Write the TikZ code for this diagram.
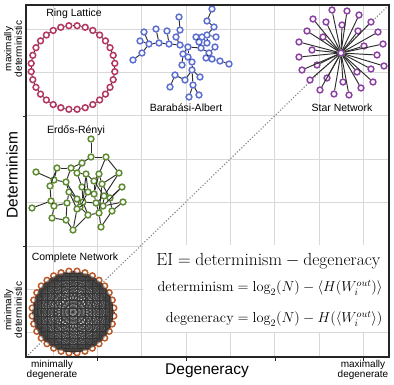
\RequirePackage{fix-cm}
\documentclass[tikz,border=0pt]{standalone}
\usepackage{amsmath}
\usepackage{fontspec}
\newfontfamily\labelfont{Liberation Sans}
\usepackage{xcolor}
\definecolor{ntgrid}{RGB}{216,216,216}
\definecolor{ntaxis}{RGB}{38,38,38}
\definecolor{ntedge}{RGB}{45,45,45}
\definecolor{ntdots}{RGB}{128,128,128}
\definecolor{ntcrimson}{RGB}{181,55,95}
\definecolor{ntblue}{RGB}{92,110,210}
\definecolor{ntpurple}{RGB}{138,66,160}
\definecolor{ntgreen}{RGB}{95,138,48}
\definecolor{ntorange}{RGB}{189,90,42}
\usepackage{tikz}
\usetikzlibrary{calc}

\tikzset{
  vtx/.style={circle, draw=#1, fill=white, line width=1.5pt, minimum size=5.8pt, inner sep=0pt},
  link/.style={draw=ntedge, line width=0.95pt},
  mesh/.style={draw=black!80, line width=0.24pt},
  gridline/.style={draw=ntgrid, line width=0.9pt},
  netlabel/.style={font=\labelfont\fontsize{10.5}{12}\selectfont},
  endlabel/.style={font=\labelfont\fontsize{10}{10.5}\selectfont, align=center},
  axislabel/.style={font=\labelfont\fontsize{15.5}{17}\selectfont}
}

\begin{document}
\begin{tikzpicture}[x=1pt,y=-1pt]
  \useasboundingbox (0,0) rectangle (394,385);
  \coordinate (plot-sw) at (26,357);
  \coordinate (plot-ne) at (389,5);

  \foreach \gx in {0,...,7}
    \draw[gridline] ({53.2+44.3*\gx},5) -- ++(0,352);
  \foreach \gy in {0,...,7}
    \draw[gridline] (26,{29+43.4*\gy}) -- ++(363,0);
  \fill[white] (143,245) rectangle (388,331.5);
  \draw[draw=ntdots, line width=1.1pt, dash pattern=on 1.1pt off 1.9pt] (plot-sw) -- (plot-ne);

  % ring lattice
  \foreach \i in {1,...,32}
    \node[vtx=ntcrimson] (r-\i) at ($(73,67.5)+({360/32*(\i-0.5)}:42)$) {};
  \foreach \i [evaluate=\i as \j using {int(mod(\i,32)+1)}] in {1,...,32}
    \draw[link] (r-\i) -- (r-\j);

  % complete network
  \foreach \i in {1,...,32}
    \node[vtx=ntorange] (c-\i) at ($(73,312)+({360/32*(\i-0.5)}:41)$) {};
  \foreach \i in {1,...,31}{
    \pgfmathtruncatemacro\nxt{\i+1}
    \foreach \j in {\nxt,...,32}
      \draw[mesh] (c-\i) -- (c-\j);
  }

  % star network
  \node[vtx=ntpurple] (s-0) at (341,53) {};
  \foreach \x/\y [count=\i] in {332/10, 347/11, 359/15, 371/22, 378/32, 383/44, 384/66, 373/82,
      361/88, 349/95, 334/94, 320/90, 310/80, 302/70, 299/57, 299/42, 307/31, 313/19,
      326/22, 342/25, 358/31, 323/37, 312/50, 317/65, 327/78, 343/82, 357/72, 371/69, 377/55, 364/46}
    \node[vtx=ntpurple] (s-\i) at (\x,\y) {};
  \foreach \i in {1,...,30}
    \draw[link] (s-0) -- (s-\i);

  % barabasi-albert
  \foreach \x/\y [count=\i] in {140/41, 149/44, 159/43, 169/44, 180/45, 188/47, 144/32, 156/29,
      167/31, 176/37, 180/30, 179/17, 142/53, 133/60, 183/54, 188/57, 192/62, 182/65, 192/70,
      185/80, 175/75, 170/87, 193/85, 200/77, 189/97, 199/95, 201/48, 196/37, 202/37, 207/35,
      214/27, 207/21, 212/9, 216/37, 199/42, 207/43, 209/53, 215/47, 206/58, 212/59, 220/61, 229/64}
    \node[vtx=ntblue] (b\i) at (\x,\y) {};
  \foreach \a/\b in {1/2, 2/3, 3/4, 4/5, 5/6, 2/7, 3/8, 4/9, 5/10, 10/11, 11/12, 2/13, 13/14,
      6/15, 6/16, 16/17, 15/18, 17/19, 19/20, 20/21, 21/22, 19/23, 19/24, 23/25, 23/26,
      6/27, 27/35, 35/28, 27/36, 36/29, 36/30, 30/31, 31/32, 32/33, 30/34, 27/37, 37/38,
      37/39, 37/40, 40/41, 41/42}
    \draw[link] (b\a) -- (b\b);

  % erdos-renyi
  \foreach \x/\y [count=\i] in {91/139, 91/157, 106/157, 82/163, 36/172, 57/168, 71/168, 77/173,
      86/174, 99/174, 119/173, 54/180, 66/182, 94/181, 102/184, 50/186, 122/187, 82/187, 88/192,
      69/192, 94/194, 104/196, 110/198, 77/199, 51/201, 67/203, 83/202, 96/203, 123/202, 54/206,
      80/207, 77/209, 103/206, 32/208, 112/211, 99/213, 88/215, 52/218, 66/220, 101/227, 73/230}
    \node[vtx=ntgreen] (e\i) at (\x,\y) {};
  \foreach \a/\b in {1/2, 2/3, 2/4, 4/8, 3/10, 5/12, 6/7, 6/12, 7/8, 7/13, 8/9, 8/18, 9/14,
      10/14, 10/15, 11/15, 11/22, 12/16, 12/13, 13/24, 14/21, 15/23, 16/25, 17/23, 17/33,
      18/27, 18/19, 19/21, 19/31, 20/24, 20/26, 21/28, 22/33, 23/35, 24/31, 24/27, 25/30,
      25/34, 26/39, 26/30, 27/28, 28/36, 29/33, 29/35, 30/38, 31/32, 31/37, 32/41, 33/36,
      35/40, 36/40, 36/37, 37/41, 38/39, 39/41, 9/19, 6/16, 13/20, 22/28, 14/22, 4/7, 3/11,
      10/21, 27/37, 20/32, 15/36, 9/27}
    \draw[link] (e\a) -- (e\b);

  \draw[draw=ntaxis, line width=1.2pt] (plot-sw) rectangle (plot-ne);
  \foreach \tx in {97,186,275,363}
    \draw[draw=ntaxis, line width=0.8pt] (\tx,357) -- ++(0,3.5);
  \foreach \ty in {116,246}
    \draw[draw=ntaxis, line width=0.8pt] (26,\ty) -- ++(-3.5,0);

  \node[netlabel] (ring-label) at (74,14) {Ring Lattice};
  \node[netlabel] (ba-label) at (186,108) {Barabási-Albert};
  \node[netlabel] (star-label) at (342,108) {Star Network};
  \node[netlabel] (er-label) at (76,131) {Erdős-Rényi};
  \node[netlabel] (complete-label) at (75,258) {Complete Network};

  \node[axislabel, rotate=90] (det-label) at (12,175) {Determinism};
  \node[axislabel] (deg-label) at (207,371) {Degeneracy};
  \node[endlabel, rotate=90] (maxdet-label) at (13,49) {maximally\\deterministic};
  \node[endlabel, rotate=90] (mindet-label) at (13,310) {minimally\\deterministic};
  \node[endlabel] (mindeg-label) at (52,370) {minimally\\degenerate};
  \node[endlabel] (maxdeg-label) at (363,370) {maximally\\degenerate};

  \node[anchor=east, font=\fontsize{17.5}{19}\selectfont] (ei-eq) at (384,261)
    {$\mathrm{EI}=\mathrm{determinism}-\mathrm{degeneracy}$};
  \node[anchor=east, font=\fontsize{14.4}{16}\selectfont] (det-eq) at (386,288)
    {$\mathrm{determinism}=\log_2(N)-\langle H(W_i^{out})\rangle$};
  \node[anchor=east, font=\fontsize{14.4}{16}\selectfont] (deg-eq) at (386,319)
    {$\mathrm{degeneracy}=\log_2(N)-H(\langle W_i^{out}\rangle)$};
\end{tikzpicture}
\end{document}
